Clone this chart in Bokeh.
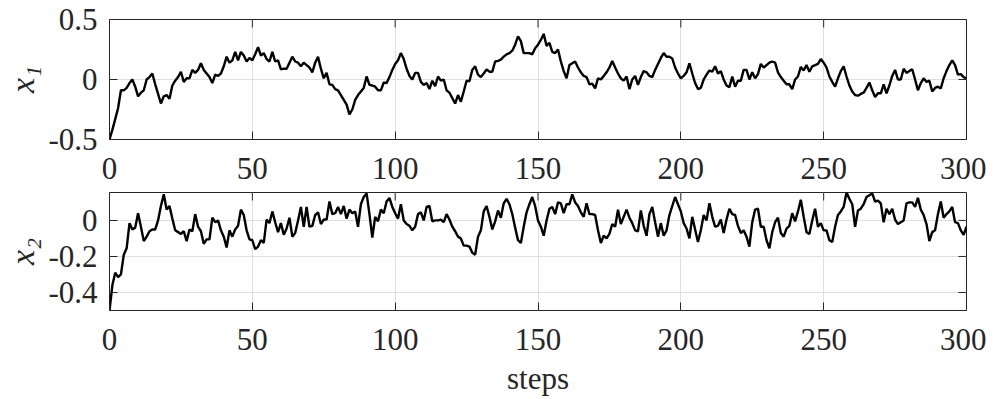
import math
from bokeh.plotting import figure
from bokeh.layouts import column
from bokeh.models import FixedTicker, Range1d
from bokeh.embed import file_html
from bokeh.resources import INLINE

steps = list(range(301))

x1 = [
    -0.50, -0.42, -0.33, -0.24, -0.09, -0.09, -0.07, -0.03, 0.00, -0.06,
    -0.14, -0.11, -0.09, 0.00, 0.02, 0.05, -0.04, -0.12, -0.20, -0.14,
    -0.13, -0.16, -0.05, -0.01, 0.02, 0.065, -0.02, 0.01, 0.01, 0.08,
    0.055, 0.08, 0.135, 0.08, 0.05, 0.02, -0.03, 0.04, 0.03, 0.05,
    0.11, 0.19, 0.14, 0.16, 0.23, 0.16, 0.23, 0.20, 0.15, 0.18,
    0.16, 0.21, 0.27, 0.20, 0.22, 0.17, 0.15, 0.23, 0.15, 0.16,
    0.085, 0.09, 0.09, 0.14, 0.19, 0.15, 0.14, 0.11, 0.14, 0.12,
    0.10, 0.06, 0.14, 0.19, 0.09, 0.01, 0.055, -0.04, -0.045, -0.08,
    -0.09, -0.13, -0.17, -0.21, -0.29, -0.25, -0.17, -0.13, -0.10, -0.07,
    0.025, -0.045, -0.05, -0.06, -0.09, -0.09, -0.025, -0.03, 0.02, 0.08,
    0.13, 0.16, 0.22, 0.17, 0.09, 0.03, 0.00, 0.055, 0.055, -0.02,
    -0.045, -0.03, -0.08, -0.01, -0.055, 0.025, -0.01, 0.00, -0.09, -0.11,
    -0.155, -0.20, -0.13, -0.185, -0.10, -0.01, -0.015, 0.08, 0.11, 0.04,
    0.02, 0.05, 0.085, 0.065, 0.065, 0.15, 0.155, 0.165, 0.19, 0.21,
    0.22, 0.24, 0.29, 0.36, 0.32, 0.22, 0.22, 0.22, 0.21, 0.26,
    0.29, 0.33, 0.38, 0.28, 0.305, 0.23, 0.22, 0.25, 0.15, 0.07,
    0.01, 0.12, 0.135, 0.15, 0.10, 0.06, 0.03, 0.02, -0.04, -0.035,
    -0.075, 0.01, 0.00, 0.03, 0.06, 0.10, 0.155, 0.10, 0.05, 0.01,
    -0.01, 0.025, -0.08, 0.00, 0.03, -0.045, 0.02, 0.07, 0.06, 0.03,
    0.02, 0.08, 0.13, 0.18, 0.22, 0.19, 0.19, 0.175, 0.10, 0.05,
    0.01, 0.03, 0.06, 0.135, 0.05, -0.03, -0.08, -0.07, 0.00, 0.04,
    0.075, 0.065, 0.11, 0.05, 0.07, 0.00, -0.05, -0.065, 0.025, -0.06,
    -0.01, -0.01, 0.08, 0.08, 0.00, 0.06, 0.01, 0.045, 0.13, 0.10,
    0.12, 0.14, 0.15, 0.14, 0.06, 0.02, -0.01, -0.04, -0.04, -0.08,
    0.00, 0.025, 0.105, 0.075, 0.12, 0.065, 0.11, 0.12, 0.13, 0.17,
    0.14, 0.10, 0.025, -0.02, -0.06, 0.01, 0.07, 0.11, 0.025, -0.05,
    -0.10, -0.13, -0.135, -0.12, -0.11, -0.07, -0.025, -0.09, -0.145, -0.115,
    -0.115, -0.04, -0.115, -0.05, 0.03, 0.08, 0.00, 0.00, 0.09, 0.055,
    0.07, 0.085, 0.00, -0.09, -0.03, 0.01, -0.02, -0.01, -0.10, -0.07,
    -0.06, -0.075, 0.01, 0.07, 0.12, 0.16, 0.12, 0.04, 0.045, 0.02,
    0.01,
]

x2 = [
    -0.50, -0.36, -0.29, -0.315, -0.30, -0.19, -0.155, -0.015, -0.05, -0.04,
    0.04, -0.035, -0.115, -0.09, -0.06, -0.05, -0.05, 0.00, 0.08, 0.145,
    0.06, 0.08, 0.01, -0.055, -0.065, -0.075, -0.06, -0.115, -0.05, -0.06,
    0.035, -0.035, -0.06, -0.13, -0.105, -0.105, 0.015, -0.01, 0.00, -0.055,
    -0.09, -0.15, -0.055, -0.09, -0.05, -0.03, 0.06, 0.03, -0.055, -0.105,
    -0.11, -0.16, -0.145, -0.11, -0.125, 0.005, -0.015, 0.05, -0.01, -0.065,
    -0.015, -0.08, -0.045, 0.015, -0.09, -0.07, 0.00, 0.075, -0.035, 0.075,
    -0.035, -0.03, 0.03, 0.045, -0.02, 0.005, 0.005, 0.105, 0.035, 0.04,
    0.075, 0.035, 0.08, 0.01, 0.06, 0.04, 0.05, -0.035, 0.09, 0.13,
    0.15, 0.035, -0.095, 0.02, -0.005, 0.06, 0.04, 0.105, 0.125, 0.075,
    0.04, 0.01, 0.09, 0.00, -0.02, -0.03, -0.055, -0.035, 0.035, 0.045,
    0.00, 0.075, 0.08, -0.005, 0.00, 0.00, 0.005, -0.01, 0.035, 0.005,
    -0.035, -0.06, -0.09, -0.10, -0.14, -0.14, -0.145, -0.18, -0.19, -0.09,
    -0.055, 0.05, 0.08, 0.02, -0.05, -0.005, 0.055, 0.015, 0.095, 0.12,
    0.09, 0.035, -0.04, -0.11, -0.125, -0.035, 0.045, 0.09, 0.13, 0.08,
    0.00, -0.035, -0.085, 0.00, 0.065, 0.075, 0.035, 0.10, 0.095, 0.04,
    0.09, 0.09, 0.145, 0.10, 0.08, 0.045, 0.02, 0.095, 0.035, 0.035,
    0.03, -0.055, -0.125, -0.085, -0.10, -0.075, -0.02, -0.035, 0.06, -0.02,
    0.02, 0.06, 0.015, -0.015, -0.055, -0.06, 0.055, -0.03, -0.085, 0.035,
    0.075, -0.01, -0.09, -0.015, -0.085, -0.055, 0.03, 0.08, 0.13, 0.09,
    0.05, -0.015, -0.045, -0.10, 0.02, -0.05, -0.12, -0.055, 0.03, 0.00,
    0.095, 0.02, -0.035, -0.03, 0.005, -0.07, 0.005, 0.065, 0.035, 0.03,
    -0.03, -0.07, -0.055, -0.09, -0.145, -0.01, 0.06, 0.065, -0.035, -0.035,
    -0.11, -0.155, -0.065, -0.01, 0.015, -0.07, -0.09, -0.045, -0.03, 0.04,
    -0.005, 0.05, 0.115, 0.02, -0.065, -0.075, 0.00, 0.065, -0.035, -0.015,
    -0.055, -0.055, -0.11, -0.12, -0.035, 0.03, 0.05, 0.075, 0.155, 0.12,
    0.09, -0.035, 0.055, 0.065, 0.09, 0.13, 0.14, 0.15, 0.105, 0.11,
    0.095, -0.01, 0.065, 0.035, 0.065, 0.005, -0.02, -0.01, 0.00, 0.095,
    0.10, 0.10, 0.075, 0.125, 0.06, 0.03, -0.02, -0.115, -0.065, -0.055,
    0.035, 0.105, 0.015, 0.035, 0.05, 0.075, -0.01, -0.015, -0.055, -0.08,
    -0.035,
]

x_ticks = [0, 50, 100, 150, 200, 250, 300]
x_tick_labels = ["0", "50", "100", "150", "200", "250", "300"]
y1_ticks = [-0.5, 0, 0.5]
y1_tick_labels = ["-0.5", "0", "0.5"]
y2_ticks = [-0.4, -0.2, 0]
y2_tick_labels = ["-0.4", "-0.2", "0"]
y1_range = (-0.5, 0.5)
y2_range = (-0.5, max(x2))
x_label = "steps"
y1_label = "x\u2081"
y2_label = "x\u2082"

FONT = "Liberation Serif"
TXT = "#262626"
GRID = "#dfdfdf"
TICK_FS = "31px"
TICK_LEN = 8


def style_axis(ax, ticks, labels, standoff):
    ax.ticker = FixedTicker(ticks=ticks)
    ax.major_tick_in = TICK_LEN
    ax.major_tick_out = 0
    ax.minor_tick_line_color = None
    ax.major_tick_line_color = TXT
    ax.major_tick_line_width = 1
    ax.axis_line_color = None
    ax.major_label_overrides = {t: s for t, s in zip(ticks, labels)}
    ax.major_label_text_font = FONT
    ax.major_label_text_font_size = TICK_FS
    ax.major_label_text_color = TXT
    ax.major_label_standoff = standoff


def make_fig(height, top, bottom, yr, yticks, ylabels, yvals, ylab):
    p = figure(width=986, height=height, output_backend="svg", toolbar_location=None,
               x_range=Range1d(x_ticks[0], x_ticks[-1]), y_range=Range1d(*yr),
               min_border_left=109, min_border_right=20,
               min_border_top=top, min_border_bottom=bottom)
    p.background_fill_color = "white"
    p.border_fill_color = "white"
    p.outline_line_color = TXT
    p.outline_line_width = 1
    p.outline_line_alpha = 1.0

    style_axis(p.xaxis[0], x_ticks, x_tick_labels, 18)
    style_axis(p.yaxis[0], yticks, ylabels, 12)
    p.yaxis[0].axis_label = ylab
    p.yaxis[0].axis_label_text_font = FONT
    p.yaxis[0].axis_label_text_font_style = "italic"
    p.yaxis[0].axis_label_text_font_size = "34px"
    p.yaxis[0].axis_label_text_color = TXT
    p.yaxis[0].axis_label_standoff = 4

    p.xgrid.ticker = FixedTicker(ticks=x_ticks)
    p.ygrid.ticker = FixedTicker(ticks=yticks)
    p.xgrid.grid_line_color = GRID
    p.ygrid.grid_line_color = GRID
    p.xgrid.grid_line_width = 1
    p.ygrid.grid_line_width = 1

    # inward tick marks on the top and right edges of the box (box on)
    p.ray(x=x_ticks, y=[yr[1]] * len(x_ticks), length=TICK_LEN, length_units="screen",
          angle=-math.pi / 2, line_color=TXT, line_width=1)
    p.ray(x=[x_ticks[-1]] * len(yticks), y=yticks, length=TICK_LEN, length_units="screen",
          angle=math.pi, line_color=TXT, line_width=1)

    p.line(steps, yvals, line_color="black", line_width=2.4)
    return p


p1 = make_fig(191, 19, 52, y1_range, y1_ticks, y1_tick_labels, x1, y1_label)
p2 = make_fig(207, 1, 87, y2_range, y2_ticks, y2_tick_labels, x2, y2_label)

p2.xaxis[0].axis_label = x_label
p2.xaxis[0].axis_label_text_font = FONT
p2.xaxis[0].axis_label_text_font_style = "normal"
p2.xaxis[0].axis_label_text_font_size = "31px"
p2.xaxis[0].axis_label_text_color = TXT
p2.xaxis[0].axis_label_standoff = 8

layout = column(p1, p2, spacing=0)

open("out.html", "w").write(file_html(layout, INLINE))
